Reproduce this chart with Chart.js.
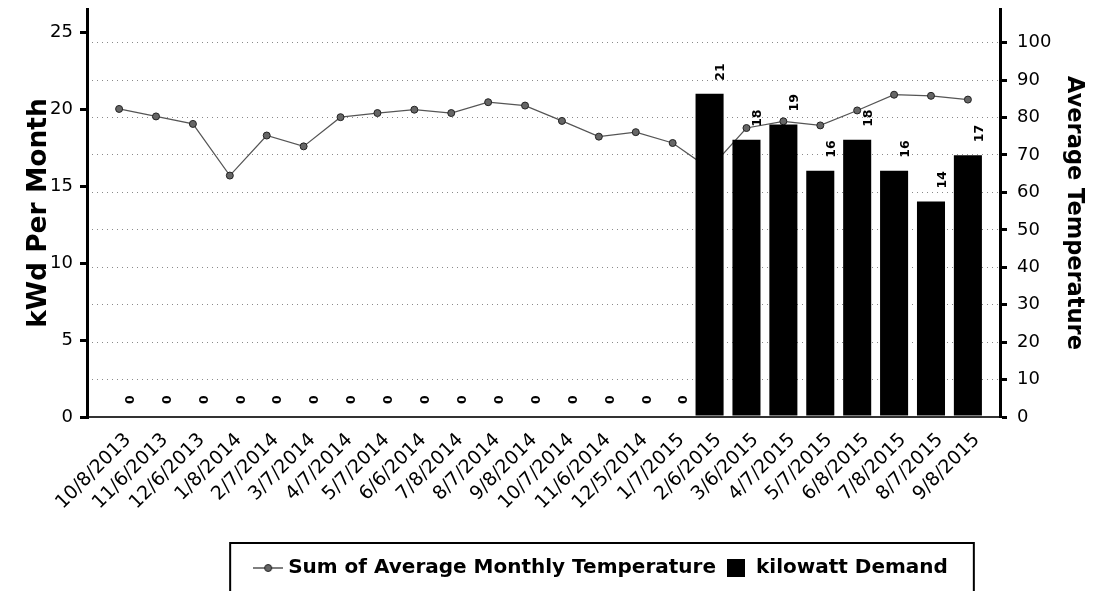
<!DOCTYPE html>
<html>
<head>
<meta charset="utf-8">
<script src="https://cdn.jsdelivr.net/npm/chart.js@4.4.1/dist/chart.umd.min.js"></script>
<style>
  html, body { margin: 0; padding: 0; background: #ffffff; }
  #wrap { width: 1111px; height: 591px; }
</style>
</head>
<body>
<div id="wrap"><canvas id="c" width="1111" height="591"></canvas></div>
<script>
const categories = ['10/8/2013','11/6/2013','12/6/2013','1/8/2014','2/7/2014','3/7/2014','4/7/2014','5/7/2014','6/6/2014','7/8/2014','8/7/2014','9/8/2014','10/7/2014','11/6/2014','12/5/2014','1/7/2015','2/6/2015','3/6/2015','4/7/2015','5/7/2015','6/8/2015','7/8/2015','8/7/2015','9/8/2015'];
const demandValues = [0,0,0,0,0,0,0,0,0,0,0,0,0,0,0,0,21,18,19,16,18,16,14,17];
const temperatureValues = [82.3,80.3,78.3,64.5,75.2,72.3,80.1,81.2,82.1,81.2,84.1,83.2,79.1,74.9,76.1,73.2,66.3,77.2,79.0,77.9,81.9,86.1,85.8,84.8];
const seriesNames = ['Sum of Average Monthly Temperature', 'kilowatt Demand'];
const axisTitles = ['kWd Per Month', 'Average Temperature'];

const FONT = 'DejaVu Sans';

function makeLineSymbol() {
  const c = document.createElement('canvas');
  c.width = 30; c.height = 12;
  const g = c.getContext('2d');
  g.strokeStyle = '#555'; g.lineWidth = 1.5;
  g.beginPath(); g.moveTo(0, 6); g.lineTo(30, 6); g.stroke();
  g.beginPath(); g.arc(15, 6, 3.5, 0, Math.PI * 2);
  g.fillStyle = '#666'; g.fill();
  g.strokeStyle = '#222'; g.lineWidth = 1; g.stroke();
  return c;
}
function makeSquareSymbol() {
  const c = document.createElement('canvas');
  c.width = 18; c.height = 18;
  const g = c.getContext('2d');
  g.fillStyle = '#000'; g.fillRect(0, 0, 18, 18);
  return c;
}
const symbols = [makeLineSymbol(), makeSquareSymbol()];

const barLabels = {
  id: 'barLabels',
  afterDatasetsDraw(chart) {
    const meta = chart.getDatasetMeta(1);
    const ctx = chart.ctx;
    ctx.save();
    ctx.font = 'bold 12.5px "' + FONT + '"';
    ctx.fillStyle = '#000';
    ctx.textAlign = 'left';
    ctx.textBaseline = 'middle';
    meta.data.forEach((el, i) => {
      ctx.save();
      ctx.translate(el.x + 11.5, el.y - 13);
      ctx.rotate(-Math.PI / 2);
      ctx.fillText(String(demandValues[i]), 0, 0);
      ctx.restore();
    });
    ctx.restore();
  }
};

const legendFrame = {
  id: 'legendFrame',
  afterLayout(chart) {
    const lg = chart.legend;
    if (!lg || !lg.lineWidths) return;
    const pad = lg.options.labels.padding;
    const W = lg.lineWidths[0];
    const rowStart = (lg.left + pad + lg.right - W) / 2;
    const center = rowStart + (W - pad) / 2;
    const dx = 603 - center;
    lg.left += dx; lg.right += dx;
  },
  afterDraw(chart) {
    const lg = chart.legend;
    if (!lg || !lg.lineWidths) return;
    const pad = lg.options.labels.padding;
    const W = lg.lineWidths[0];
    const rowStart = (lg.left + pad + lg.right - W) / 2;
    const ctx = chart.ctx;
    ctx.save();
    ctx.strokeStyle = '#000';
    ctx.lineWidth = 2;
    const l = rowStart - 28, r = rowStart + W - pad + 26;
    ctx.strokeRect(l, lg.top - 5, r - l, chart.height - lg.top + 20);
    ctx.restore();
  }
};

new Chart(document.getElementById('c'), {
  type: 'bar',
  data: {
    datasets: [
      {
        type: 'line',
        label: seriesNames[0],
        data: temperatureValues.map((v, i) => ({ x: i, y: v })),
        xAxisID: 'x',
        yAxisID: 'y1',
        order: 2,
        borderColor: '#555',
        borderWidth: 1.2,
        tension: 0,
        pointRadius: 3.5,
        pointBackgroundColor: '#666',
        pointBorderColor: '#222',
        pointBorderWidth: 1
      },
      {
        type: 'bar',
        label: seriesNames[1],
        data: demandValues.map((v, i) => ({ x: i, y: v })),
        xAxisID: 'x',
        yAxisID: 'y',
        order: 1,
        backgroundColor: '#000',
        borderWidth: 0,
        categoryPercentage: 0.8,
        barPercentage: 0.95
      }
    ]
  },
  options: {
    responsive: false,
    animation: false,
    devicePixelRatio: 1,
    layout: { padding: { top: 9, bottom: 3, left: 0, right: 0 } },
    plugins: {
      tooltip: { enabled: false },
      legend: {
        display: true,
        position: 'bottom',
        labels: {
          usePointStyle: true,
          boxWidth: 20,
          boxHeight: 20,
          padding: 10,
          color: '#000',
          font: { family: FONT, size: 20, weight: 'bold' },
          generateLabels(chart) {
            return chart.data.datasets.map((ds, i) => ({
              text: ds.label,
              pointStyle: symbols[i],
              fillStyle: '#000',
              strokeStyle: '#000',
              lineWidth: 0,
              fontColor: '#000',
              hidden: false,
              datasetIndex: i
            }));
          }
        }
      }
    },
    scales: {
      x: {
        type: 'linear',
        min: -0.87,
        max: 23.87,
        offset: false,
        ticks: {
          stepSize: 1,
          includeBounds: false,
          autoSkip: false,
          maxRotation: 45,
          minRotation: 45,
          color: '#000',
          padding: 4,
          labelOffset: 9,
          font: { family: FONT, size: 19 },
          callback: (v) => Number.isInteger(v) && categories[v] !== undefined ? categories[v] : ''
        },
        grid: { display: false },
        border: { display: true, color: '#333', width: 2 },
        afterFit: (s) => { s.height = 131; s.paddingLeft = 0; s.paddingRight = 0; }
      },
      y: {
        type: 'linear',
        position: 'left',
        min: 0,
        max: 26.5,
        ticks: {
          stepSize: 5,
          includeBounds: false,
          color: '#000',
          padding: 7,
          font: { family: FONT, size: 18 }
        },
        grid: { drawOnChartArea: false, color: '#000', lineWidth: 3, tickLength: 7, tickWidth: 3, tickColor: '#000' },
        border: { color: '#000', width: 3 },
        title: {
          display: true,
          text: axisTitles[0],
          color: '#000',
          font: { family: FONT, size: 26.5, weight: 'bold', lineHeight: 1.2 },
          padding: { top: 23, bottom: 0 }
        },
        afterFit: (s) => { s.width = 87; s.paddingTop = 0; s.paddingBottom = 0; }
      },
      y1: {
        type: 'linear',
        position: 'right',
        min: 0,
        max: 109,
        ticks: {
          stepSize: 10,
          includeBounds: false,
          color: '#000',
          padding: 10,
          font: { family: FONT, size: 18 }
        },
        grid: {
          drawOnChartArea: true,
          color: '#8a8a8a',
          lineWidth: 1,
          tickColor: '#000',
          tickWidth: 3,
          tickLength: 7,
          tickBorderDash: []
        },
        border: { color: '#000', width: 3, dash: [1, 4] },
        title: {
          display: true,
          text: axisTitles[1],
          color: '#000',
          font: { family: FONT, size: 22.5, weight: 'bold', lineHeight: 1.2 },
          padding: { top: 23.5, bottom: 0 }
        },
        afterFit: (s) => { s.width = 111; s.paddingTop = 0; s.paddingBottom = 0; }
      }
    }
  },
  plugins: [barLabels, legendFrame]
});
</script>
</body>
</html>
